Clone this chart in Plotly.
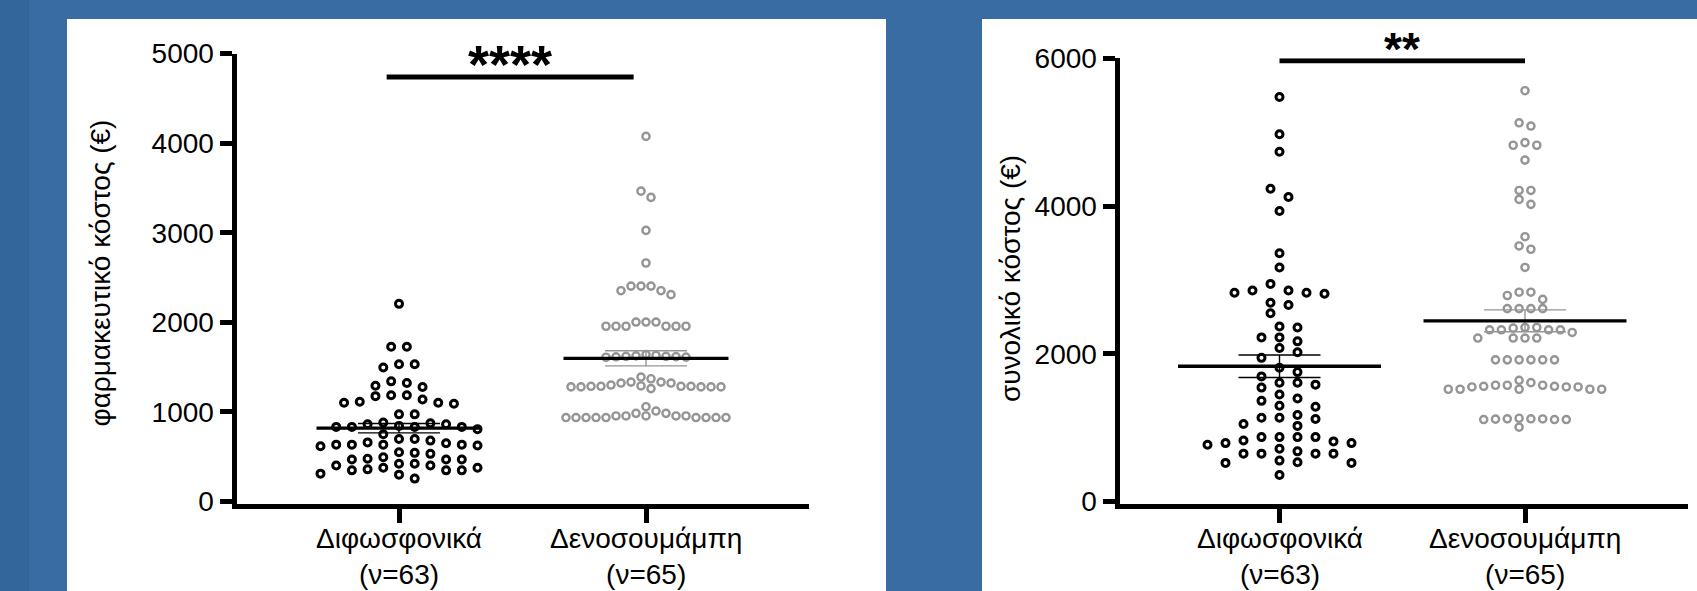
import numpy as np
import plotly.graph_objects as go

# ---------------- data ----------------
categories = ["Διφωσφονικά", "Δενοσουμάμπη"]

drug_cost_bisph = [2206, 1727, 1727, 1532, 1532, 1496, 1341, 1323, 1279, 1293,
                   1176, 1187, 1187, 1139, 1113, 1091, 1102, 1102, 973, 973,
                   863, 833, 863, 833, 844, 833, 833, 874, 808, 881,
                   698, 751, 698, 680, 625, 660, 635, 635, 650, 617, 635, 635,
                   532, 550, 543, 469, 469, 421, 469, 495, 477,
                   403, 377, 421, 403, 377, 311, 348, 359, 348, 348, 300, 256]

drug_cost_deno = [4075, 3464, 3394, 3026, 2662, 2404, 2404, 2404, 2353, 2353, 2309,
                  2003, 2003, 2003, 1956, 1956, 1956, 1956, 1956, 1956,
                  1640, 1625, 1620, 1617, 1615, 1612, 1610, 1620, 1630,
                  1389, 1370, 1333, 1333, 1322, 1322, 1300, 1290, 1286, 1286,
                  1286, 1279, 1279, 1279, 1279, 1279, 1260, 1286,
                  1058, 1010, 984, 984, 955, 955, 955, 955, 937, 937, 937,
                  937, 937, 937, 937, 937, 937, 955]

total_cost_bisph = [5476, 4971, 4734, 4233, 4122, 3934, 3362, 3169, 2946,
                    2857, 2826, 2826, 2812, 2857, 2691, 2660, 2548, 2369, 2356,
                    2222, 2222, 2168, 2079, 2021, 1945, 1810, 1752, 1694,
                    1609, 1582, 1609, 1542, 1448, 1395, 1363, 1296, 1283,
                    1171, 1118, 1135, 1135, 1050, 1024, 872, 872,
                    814, 827, 872, 872, 791, 791, 769, 715,
                    648, 679, 648, 648, 648, 532, 554, 523, 523, 358]

total_cost_deno = [5561, 5083, 5127, 4823, 4823, 4859, 4622, 4211, 4211, 4090, 4023,
                   3585, 3460, 3415, 3169, 2834, 2789, 2736, 2834,
                   2611, 2611, 2611, 2611,
                   2325, 2325, 2356, 2347, 2356, 2289, 2325, 2325,
                   2213, 2213, 2213, 2213,
                   1918, 1918, 1918, 1918, 1918, 1918,
                   1574, 1520, 1551, 1551, 1560, 1574, 1641, 1520, 1520, 1609,
                   1520, 1574, 1520, 1560, 1551,
                   1127, 1120, 1110, 1120, 1006, 1115, 1110, 1110, 1118]

left_yticks = [0, 1000, 2000, 3000, 4000, 5000]
right_yticks = [0, 2000, 4000, 6000]
left_title = "φαρμακευτικό κόστος (€)"
right_title = "συνολικό κόστος (€)"
left_sig, right_sig = "****", "**"
left_sig_y, right_sig_y = 4737, 5968
left_sig_x, right_sig_x = (-0.05, 0.95), (0.0, 1.0)

# ---------------- layout geometry (pixels) ----------------
W, H = 1697, 591
LW = 5
BLUE, BLUE_DARK = "#386ca2", "#33679b"
GRAY = "#959595"
FONT = "Arial, Liberation Sans, sans-serif"

panels = {
    "L": dict(axis_px=234, end_px=809, c0=399, c1=646, top_px=53.5, zero_px=506.5, ymax=5000),
    "R": dict(axis_px=1117, end_px=1688, c0=1279.5, c1=1525, top_px=58.3, zero_px=506.5, ymax=6000),
}
for p in panels.values():
    p["xs"] = p["c1"] - p["c0"]                      # px per category unit
    p["ys"] = (p["zero_px"] - p["top_px"]) / p["ymax"]  # px per value unit
    dom_x0 = p["axis_px"] + LW / 2
    p["xdomain"] = [dom_x0 / W, p["end_px"] / W]
    p["xrange"] = [(dom_x0 - p["c0"]) / p["xs"], (p["end_px"] - p["c0"]) / p["xs"]]
    p["ydomain"] = [1 - (p["zero_px"] - LW / 2) / H, 1 - p["top_px"] / H]
    p["yrange"] = [-(LW / 2) / p["ys"], p["ymax"]]


def swarm(values, ys, row_px):
    v = np.asarray(values, float)
    y = v * ys
    order = np.argsort(-v, kind="stable")
    slots = np.zeros(len(v))
    py, ps = [], []
    for i in order:
        k = 0
        while True:
            cand = ((k + 1) // 2) * (1 if k % 2 == 1 else -1)
            if all(not (abs(y[i] - a) < row_px and b == cand) for a, b in zip(py, ps)):
                break
            k += 1
        slots[i] = cand
        py.append(y[i]); ps.append(cand)
    idx = np.argsort(y, kind="stable")
    groups = [[idx[0]]]
    for a, b in zip(idx[:-1], idx[1:]):
        if y[b] - y[a] >= row_px:
            groups.append([b])
        else:
            groups[-1].append(b)
    for g in groups:
        s = slots[g]
        slots[g] = s - (s.max() + s.min()) / 2
    return slots


fig = go.Figure()
shapes, annotations = [], []

# background panels
shapes.append(dict(type="rect", xref="paper", yref="paper", x0=0, x1=29 / W, y0=0, y1=1,
                   fillcolor=BLUE_DARK, line_width=0, layer="below"))
for x0, x1 in [(67, 886), (982, 1697)]:
    shapes.append(dict(type="rect", xref="paper", yref="paper", x0=x0 / W, x1=x1 / W,
                       y0=0, y1=1 - 19 / H, fillcolor="white", line_width=0, layer="below"))

# (panel, axes, groups, swarm steps px, mean half-width px, sig text, sig x, sig y, sig font, sig centre px)
specs = [
    ("L", "x", "y", [drug_cost_bisph, drug_cost_deno], [15.7, 10.0], 82.5, left_sig, left_sig_x, left_sig_y, 54, 64),
    ("R", "x2", "y2", [total_cost_bisph, total_cost_deno], [18.0, 11.8], 101.5, right_sig, right_sig_x, right_sig_y, 46, 49),
]
styles = [dict(color="black", size=7, lw=3, sem="black"), dict(color=GRAY, size=7.2, lw=2.4, sem=GRAY)]

for key, xr, yr, groups, steps, mean_half_px, sig, sigx, sigy, sigsize, sig_px in specs:
    p = panels[key]
    for gi, (vals, step) in enumerate(zip(groups, steps)):
        st = styles[gi]
        row_px = 10.5 if gi == 0 else 8.8
        off = swarm(vals, p["ys"], row_px) * step / p["xs"]
        fig.add_trace(go.Scatter(
            x=gi + off, y=vals, xaxis=xr, yaxis=yr, mode="markers", cliponaxis=False,
            marker=dict(symbol="circle-open", size=st["size"], color=st["color"],
                        line=dict(width=st["lw"], color=st["color"])),
            showlegend=False, hoverinfo="y"))
        arr = np.asarray(vals, float)
        m = arr.mean()
        sem = arr.std(ddof=1) / np.sqrt(len(arr))
        hw = mean_half_px / p["xs"]
        sw = 41 / p["xs"]
        for yy in (m - sem, m + sem):
            shapes.append(dict(type="line", xref=xr, yref=yr, x0=gi - sw, x1=gi + sw, y0=yy, y1=yy,
                               line=dict(color=st["sem"], width=1.4), layer="above"))
        shapes.append(dict(type="line", xref=xr, yref=yr, x0=gi, x1=gi, y0=m - sem, y1=m + sem,
                           line=dict(color=st["sem"], width=1.4), layer="above"))
        shapes.append(dict(type="line", xref=xr, yref=yr, x0=gi - hw, x1=gi + hw, y0=m, y1=m,
                           line=dict(color="black", width=3.3), layer="above"))
        # category label (two lines) under each tick
        annotations.append(dict(text=f"{categories[gi]}<br>(ν={len(vals)})", xref=xr, yref="paper",
                                x=gi, y=1 - 556 / H, xanchor="center", yanchor="middle", borderpad=0,
                                showarrow=False, font=dict(family=FONT, size=28, color="black")))
    # significance bar
    shapes.append(dict(type="line", xref=xr, yref=yr, x0=sigx[0], x1=sigx[1], y0=sigy, y1=sigy,
                       line=dict(color="black", width=5), layer="above"))
    annotations.append(dict(text=sig, xref=xr, yref="paper", x=(sigx[0] + sigx[1]) / 2,
                            y=1 - sig_px / H, yanchor="middle", xanchor="center", borderpad=0,
                            showarrow=False, font=dict(family=FONT, size=sigsize, color="black", weight="bold")))

annotations.append(dict(text=left_title, xref="paper", yref="paper", x=100.5 / W, y=1 - 273 / H,
                        textangle=-90, showarrow=False, xanchor="center", yanchor="middle",
                        font=dict(family=FONT, size=28, color="black")))
annotations.append(dict(text=right_title, xref="paper", yref="paper", x=1010 / W, y=1 - 278 / H,
                        textangle=-90, showarrow=False, xanchor="center", yanchor="middle",
                        font=dict(family=FONT, size=28, color="black")))


def xaxis_cfg(p, anchor):
    return dict(domain=p["xdomain"], range=p["xrange"], showline=True, linewidth=LW, linecolor="black",
                ticks="outside", ticklen=14, tickwidth=LW, tickcolor="black",
                tickvals=[0, 1], showticklabels=False, automargin=False,
                showgrid=False, zeroline=False, fixedrange=True, anchor=anchor)


def yaxis_cfg(p, ticks, anchor):
    return dict(domain=p["ydomain"], range=p["yrange"], showline=True, linewidth=LW, linecolor="black",
                ticks="outside", ticklen=12, tickwidth=LW, tickcolor="black", tickvals=ticks,
                ticktext=[str(t) for t in ticks], automargin=False,
                tickfont=dict(family=FONT, size=28, color="black"),
                showgrid=False, zeroline=False, fixedrange=True, anchor=anchor)


fig.update_layout(
    width=W, height=H, margin=dict(l=0, r=0, t=0, b=0, pad=0), autosize=False,
    paper_bgcolor=BLUE, plot_bgcolor="rgba(0,0,0,0)",
    font=dict(family=FONT, color="black"),
    xaxis=xaxis_cfg(panels["L"], "y"),
    yaxis=yaxis_cfg(panels["L"], left_yticks, "x"),
    xaxis2=xaxis_cfg(panels["R"], "y2"),
    yaxis2=yaxis_cfg(panels["R"], right_yticks, "x2"),
    shapes=shapes, annotations=annotations, showlegend=False,
)

fig.write_html("out.html", config={"displayModeBar": False},
               post_script="document.body.style.margin='0';document.body.style.overflow='hidden';")
